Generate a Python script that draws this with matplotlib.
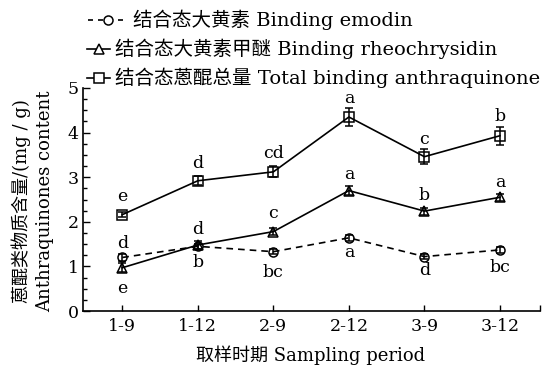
import matplotlib
matplotlib.use("Agg")
import matplotlib.pyplot as plt
from matplotlib.lines import Line2D
import numpy as np

plt.rcParams['font.family'] = ['DejaVu Serif', 'Noto Sans CJK SC']

periods = ['1-9', '1-12', '2-9', '2-12', '3-9', '3-12']

emodin = [1.20, 1.45, 1.33, 1.64, 1.22, 1.37]
emodin_err = [0.07, 0.06, 0.06, 0.06, 0.05, 0.06]
emodin_sig = ['d', 'b', 'bc', 'a', 'd', 'bc']

rheo = [0.97, 1.48, 1.78, 2.70, 2.24, 2.55]
rheo_err = [0.10, 0.08, 0.07, 0.10, 0.08, 0.08]
rheo_sig = ['e', 'd', 'c', 'a', 'b', 'a']

total = [2.16, 2.92, 3.12, 4.35, 3.46, 3.93]
total_err = [0.06, 0.10, 0.12, 0.20, 0.17, 0.20]
total_sig = ['e', 'd', 'cd', 'a', 'c', 'b']

labels = ['结合态大黄素 Binding emodin',
          '结合态大黄素甲醚 Binding rheochrysidin',
          '结合态蒽醌总量 Total binding anthraquinone']

# label offsets in pixels (positive = above)
emodin_off = [14, -16, -21, -15, -14, -18]
rheo_off = [-21, 15, 18, 16, 16, 15]
total_off = [18, 17, 18, 18, 17, 19]

fig = plt.figure(figsize=(5.51, 3.67), dpi=100)
ax = fig.add_axes([83/551, 1-311/367, (540-83)/551, (311-88)/367])
x = np.arange(len(periods))

fs = 13
fs_leg = 14
fs_tick = 12.5
series = [
    (emodin, emodin_err, emodin_sig, emodin_off, 'o', (0, (4, 3))),
    (rheo, rheo_err, rheo_sig, rheo_off, '^', '-'),
    (total, total_err, total_sig, total_off, 's', '-'),
]
for vals, err, sig, off, mk, ls in series:
    ax.errorbar(x, vals, yerr=err, fmt=mk, ls=ls, color='black', lw=1.2,
                ms=7 if mk != 'o' else 6.5, mfc='none', mec='black', mew=1.1,
                elinewidth=1.1, capsize=3, capthick=1.1, zorder=3)
    for xi, v, s, o in zip(x, vals, sig, off):
        ax.annotate(s, (xi, v), xytext=(0, o * 0.72), textcoords='offset points',
                    ha='center', va='center', fontsize=fs_tick)

ax.set_xlim(-0.52, 5.53)
ax.set_ylim(0, 5)
ax.set_xticks(x)
ax.set_xticklabels(periods, fontsize=fs_tick)
ax.set_xticks([5.53], minor=True)
ax.set_yticks(np.arange(0, 6, 1))
ax.set_yticks(np.arange(0, 5.01, 0.25), minor=True)
ax.tick_params(axis='y', which='major', direction='in', length=5, width=1, labelsize=fs_tick, pad=3)
ax.tick_params(axis='y', which='minor', direction='in', length=3, width=1)
ax.tick_params(axis='x', which='major', direction='in', length=4, width=1, pad=5)
ax.tick_params(axis='x', which='minor', direction='in', length=4, width=1)
ax.spines['top'].set_visible(False)
ax.spines['right'].set_visible(False)
for sp in ['left', 'bottom']:
    ax.spines[sp].set_linewidth(1.2)

fig.text(311/551, 1-355/367, '取样时期 Sampling period', ha='center', va='center', fontsize=fs)
fig.text(21/551, 1-201/367, '蒽醌类物质含量/(mg / g)', rotation=90, ha='center', va='center', fontsize=fs)
fig.text(45/551, 1-201/367, 'Anthraquinones content', rotation=90, ha='center', va='center', fontsize=fs)

# legend drawn manually
leg_rows = [
    (20, 88, 128, 133, 'o', (0, (3, 3))),
    (49, 87, 110, 115, '^', '-'),
    (78, 87, 110, 115, 's', '-'),
]
for (yy, x0, x1, xt, mk, ls), lab in zip(leg_rows, labels):
    yf = 1 - yy/367
    fig.add_artist(Line2D([x0/551, x1/551], [yf, yf], transform=fig.transFigure,
                          color='black', lw=1.2, ls=ls))
    fig.add_artist(Line2D([(x0+x1)/2/551], [yf], transform=fig.transFigure,
                          marker=mk, ms=6.5, mfc='white', mec='black', mew=1.1, ls='none'))
    fig.text(xt/551, yf, lab, ha='left', va='center', fontsize=fs_leg)

fig.savefig('out.png', dpi=100)
